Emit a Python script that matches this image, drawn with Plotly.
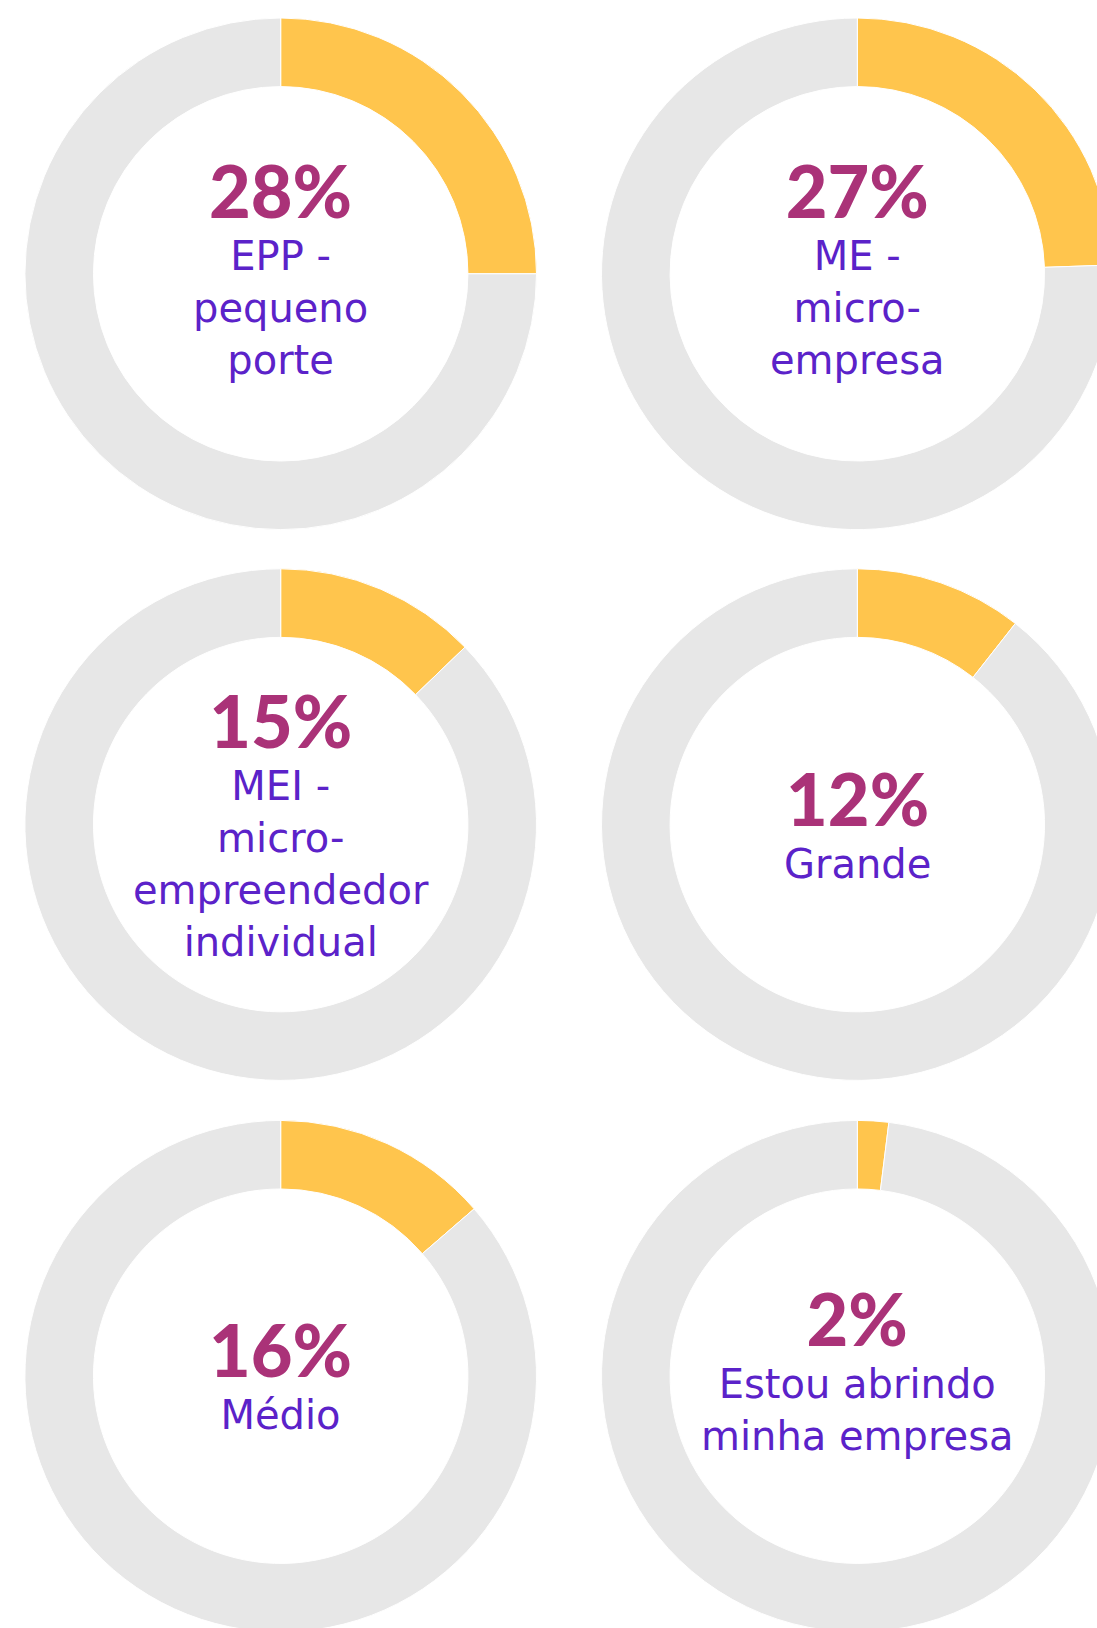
import plotly.graph_objects as go

# ---- data ----
pct_labels = [28, 27, 15, 12, 16, 2]
arc_share = [25.0, 24.45, 12.8, 10.6, 13.65, 1.97]
category_lines = [
    ["EPP -", "pequeno", "porte"],
    ["ME -", "micro-", "empresa"],
    ["MEI -", "micro-", "empreendedor", "individual"],
    ["Grande"],
    ["Médio"],
    ["Estou abrindo", "minha empresa"],
]

# ---- layout constants ----
W, H = 1114, 1632
col_cx = [280.7, 857.3]
row_cy = [273.8, 824.6, 1376.2]
R = 255.8
HOLE = 0.732
YELLOW = "#FFC54D"
GRAY = "#E7E7E7"
MAGENTA = "#AA3278"
PURPLE = "#5B22C9"
PCT_SIZE = 72
LBL_SIZE = 40
LINE = 52
LATO_ASC = 0.987

fig = go.Figure()
annotations = []
for i, (p, share, lines) in enumerate(zip(pct_labels, arc_share, category_lines)):
    cx = col_cx[i % 2]
    cy = row_cy[i // 2]
    fig.add_trace(go.Pie(
        values=[share, 100 - share],
        labels=["sim", "outros"],
        sort=False,
        direction="clockwise",
        rotation=0,
        hole=HOLE,
        textinfo="none",
        hoverinfo="skip",
        showlegend=False,
        marker=dict(colors=[YELLOW, GRAY], line=dict(color="white", width=1)),
        domain=dict(
            x=[(cx - R) / W, (cx + R) / W],
            y=[(H - (cy + R)) / H, (H - (cy - R)) / H],
        ),
    ))
    n = len(lines)
    desc = 10 if any(ch in lines[-1] for ch in "gjpqy") else 0
    block = 102 + LINE * (n - 1) + desc
    T = cy - block / 2
    box_top = T + 51 - LATO_ASC * PCT_SIZE - 1
    pct_html = (f'<span style="font-family:Lato;font-weight:900;'
                f'font-size:{PCT_SIZE}px;fill:{MAGENTA}">{p}%</span>')
    annotations.append(dict(
        x=cx / W, y=(H - box_top) / H, xref="paper", yref="paper",
        xanchor="center", yanchor="top", showarrow=False, align="center",
        text=pct_html + "<br>" + "<br>".join(lines),
        font=dict(family="DejaVu Sans", size=LBL_SIZE, color=PURPLE),
    ))

fig.update_layout(
    width=W, height=H,
    margin=dict(l=0, r=0, t=0, b=0),
    paper_bgcolor="white", plot_bgcolor="white",
    annotations=annotations,
)

fig.write_html(
    "out.html",
    config={"displayModeBar": False},
    post_script="document.body.style.margin='0';document.body.style.overflow='hidden';",
)
